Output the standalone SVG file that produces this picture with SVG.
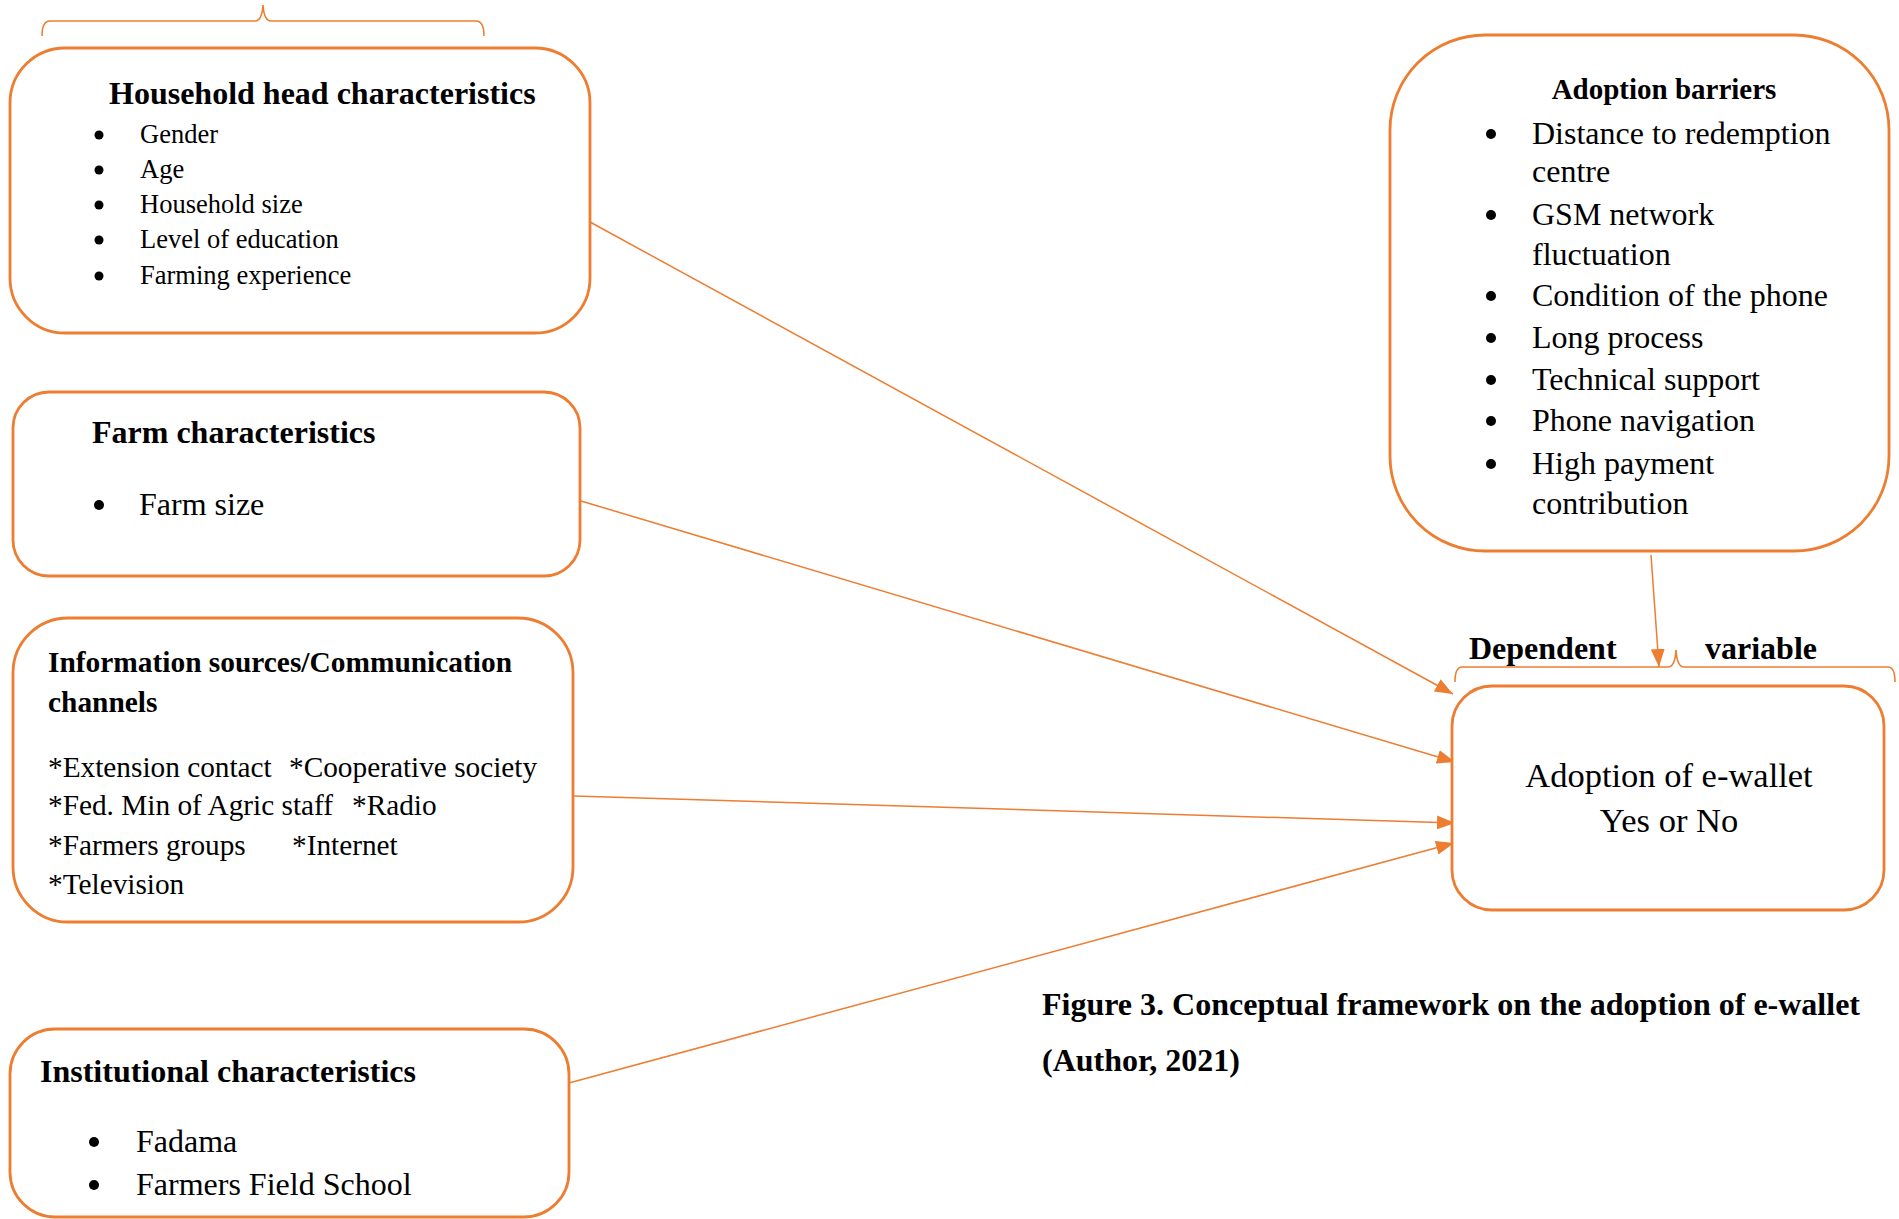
<svg xmlns="http://www.w3.org/2000/svg" width="1899" height="1219" viewBox="0 0 1899 1219">
<style>
.box{fill:#fff;stroke:#ED7D31;stroke-width:2.8}
.brace{fill:none;stroke:#ED7D31;stroke-width:1.6}
.conn{fill:none;stroke:#ED7D31;stroke-width:1.5}
.t{font-family:"Liberation Serif","Times New Roman",serif;fill:#000}
.b{font-weight:bold}
.dot{fill:#000}
</style>
<defs>
<marker id="ah" viewBox="0 0 18 14" refX="18" refY="7" markerWidth="18" markerHeight="14" markerUnits="userSpaceOnUse" orient="auto">
<path d="M0,0 L18,7 L0,14 Z" fill="#ED7D31"/>
</marker>
</defs>
<rect width="1899" height="1219" fill="#fff"/>
<path class="brace" d="M42,36 Q42,21 50,21 L255,21 Q262,21 263,5 Q264,21 271,21 L476,21 Q484,21 484,36"/>
<path class="brace" d="M1455,682 Q1455,667 1462,667 L1668,667 Q1675,667 1676,650 Q1677,667 1684,667 L1888,667 Q1895,667 1895,682"/>
<g id="connectors">
<line class="conn" x1="590" y1="222" x2="1453" y2="694" marker-end="url(#ah)"/>
<line class="conn" x1="581" y1="501" x2="1455" y2="762" marker-end="url(#ah)"/>
<line class="conn" x1="574" y1="796" x2="1455" y2="823" marker-end="url(#ah)"/>
<line class="conn" x1="569" y1="1083" x2="1454" y2="843" marker-end="url(#ah)"/>
<line class="conn" x1="1651" y1="555" x2="1659" y2="667" marker-end="url(#ah)"/>
</g>
<g id="household">
<rect class="box" x="10" y="48" width="580" height="285" rx="55" ry="55"/>
<text class="t b" x="109" y="104" font-size="32">Household head characteristics</text>
<g font-size="26.5" class="t">
<text x="140" y="143">Gender</text>
<text x="140" y="178">Age</text>
<text x="140" y="213">Household size</text>
<text x="140" y="248">Level of education</text>
<text x="140" y="284">Farming experience</text>
</g>
<circle class="dot" cx="99" cy="135" r="4.5"/>
<circle class="dot" cx="99" cy="170" r="4.5"/>
<circle class="dot" cx="99" cy="205" r="4.5"/>
<circle class="dot" cx="99" cy="240" r="4.5"/>
<circle class="dot" cx="99" cy="276" r="4.5"/>
</g>
<g id="farm">
<rect class="box" x="13" y="392" width="567" height="184" rx="36" ry="36"/>
<text class="t b" x="92" y="443" font-size="32">Farm characteristics</text>
<text class="t" x="139" y="515" font-size="32">Farm size</text>
<circle class="dot" cx="99" cy="505" r="5"/>
</g>
<g id="info">
<rect class="box" x="13" y="618" width="560" height="304" rx="55" ry="55"/>
<text class="t b" x="48" y="672" font-size="29.4">Information sources/Communication</text>
<text class="t b" x="48" y="712" font-size="29.4">channels</text>
<g class="t" font-size="29.3">
<text x="48" y="777">*Extension contact</text>
<text x="289" y="777">*Cooperative society</text>
<text x="48" y="815">*Fed. Min of Agric staff</text>
<text x="352" y="815">*Radio</text>
<text x="48" y="855">*Farmers groups</text>
<text x="292" y="855">*Internet</text>
<text x="48" y="894">*Television</text>
</g>
</g>
<g id="institutional">
<rect class="box" x="10" y="1029" width="559" height="188" rx="45" ry="45"/>
<text class="t b" x="40" y="1082" font-size="32">Institutional characteristics</text>
<text class="t" x="136" y="1152" font-size="32">Fadama</text>
<text class="t" x="136" y="1195" font-size="32">Farmers Field School</text>
<circle class="dot" cx="94" cy="1142" r="5"/>
<circle class="dot" cx="94" cy="1185" r="5"/>
</g>
<g id="barriers">
<rect class="box" x="1390" y="35" width="499" height="516" rx="95" ry="95"/>
<text class="t b" x="1664" y="99" font-size="29" text-anchor="middle">Adoption barriers</text>
<g class="t" font-size="32">
<text x="1532" y="144">Distance to redemption</text>
<text x="1532" y="182">centre</text>
<text x="1532" y="225">GSM network</text>
<text x="1532" y="265">fluctuation</text>
<text x="1532" y="306">Condition of the phone</text>
<text x="1532" y="348">Long process</text>
<text x="1532" y="390">Technical support</text>
<text x="1532" y="431">Phone navigation</text>
<text x="1532" y="474">High payment</text>
<text x="1532" y="514">contribution</text>
</g>
<circle class="dot" cx="1491" cy="134" r="5"/>
<circle class="dot" cx="1491" cy="215" r="5"/>
<circle class="dot" cx="1491" cy="296" r="5"/>
<circle class="dot" cx="1491" cy="338" r="5"/>
<circle class="dot" cx="1491" cy="380" r="5"/>
<circle class="dot" cx="1491" cy="421" r="5"/>
<circle class="dot" cx="1491" cy="464" r="5"/>
</g>
<g id="dependent-label">
<text class="t b" x="1469" y="659" font-size="32">Dependent</text>
<text class="t b" x="1705" y="659" font-size="32">variable</text>
</g>
<g id="adoption">
<rect class="box" x="1452" y="686" width="432" height="224" rx="40" ry="40"/>
<text class="t" x="1669" y="787" font-size="34.5" text-anchor="middle">Adoption of e-wallet</text>
<text class="t" x="1669" y="832" font-size="34.5" text-anchor="middle">Yes or No</text>
</g>
<g id="caption">
<text class="t b" x="1042" y="1015" font-size="32">Figure 3. Conceptual framework on the adoption of e-wallet</text>
<text class="t b" x="1042" y="1071" font-size="32">(Author, 2021)</text>
</g>
</svg>
